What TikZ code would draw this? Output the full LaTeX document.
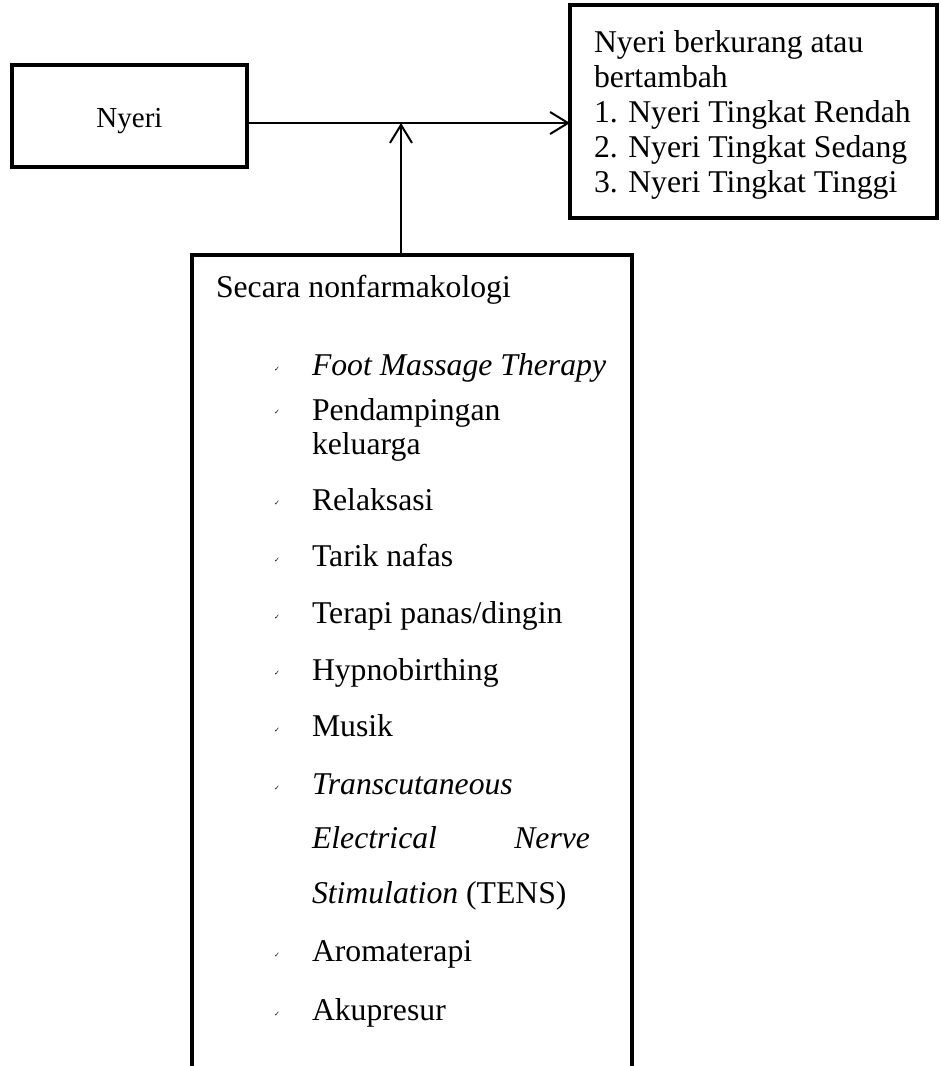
\documentclass[tikz,border=0pt]{standalone}
\usepackage{fontspec}
\setmainfont{Liberation Serif}
\newfontfamily\symfont{DejaVu Sans}
\usetikzlibrary{arrows.meta}
\begin{document}
\begin{tikzpicture}[x=1pt,y=-1pt,
  box/.style={draw, line width=4.8pt, rectangle, inner sep=0pt, outer sep=0pt},
  txt/.style={inner sep=0pt, outer sep=0pt, anchor=base west, font=\fontsize{31.7}{35}\selectfont},
  chk/.style={inner sep=0pt, outer sep=0pt, anchor=center, font=\symfont\bfseries\fontsize{7}{7}\selectfont},
  conn/.style={line width=2pt, -{Straight Barb[length=18pt,width=22pt]}}
]
\useasboundingbox (0,0) rectangle (941,1066);
\fill[white] (0,0) rectangle (941,1066);
\clip (0,0) rectangle (941,1066);

% boxes
\node[box, minimum width=235pt, minimum height=102pt] (nyeri) at (129.5,116) {};
\node[txt, anchor=base, font=\fontsize{29}{30}\selectfont] (nyerilbl) at (129.5,127) {Nyeri};

\node[box, minimum width=367pt, minimum height=213pt] (hasil) at (753.5,111.5) {};
\node[txt] (h1) at (594,52) {Nyeri berkurang atau};
\node[txt] (h2) at (594,87) {bertambah};
\node[txt] (h3) at (594,122) {1. Nyeri Tingkat Rendah};
\node[txt] (h4) at (594,157) {2. Nyeri Tingkat Sedang};
\node[txt] (h5) at (594,192) {3. Nyeri Tingkat Tinggi};

\node[box, minimum width=440pt, minimum height=900pt, anchor=north] (non) at (412,255) {};
\node[txt] (judul) at (216,297.7) {Secara nonfarmakologi};

\node[chk] (c1) at (277,369.5) {✓};
\node[txt] (i1) at (312,375.7) {\itshape Foot Massage Therapy};
\node[chk] (c2) at (277,412.5) {✓};
\node[txt] (i2) at (312,420.7) {Pendampingan};
\node[txt] (i2b) at (312,454.3) {keluarga};
\node[chk] (c3) at (277,503.5) {✓};
\node[txt] (i3) at (312,510) {Relaksasi};
\node[chk] (c4) at (277,560) {✓};
\node[txt] (i4) at (312,566.7) {Tarik nafas};
\node[chk] (c5) at (277,617) {✓};
\node[txt] (i5) at (312,623.3) {Terapi panas/dingin};
\node[chk] (c6) at (277,673.5) {✓};
\node[txt] (i6) at (312,680) {Hypnobirthing};
\node[chk] (c7) at (277,730) {✓};
\node[txt] (i7) at (312,736.7) {Musik};
\node[chk] (c8) at (277,788) {✓};
\node[txt] (i8) at (312,794.3) {\itshape Transcutaneous};
\node[txt] (i8b) at (312,848.3) {\hbox to 278pt{\itshape Electrical\hfill Nerve}};
\node[txt] (i8c) at (312,903.3) {\textit{Stimulation} (TENS)};
\node[chk] (c9) at (277,955) {✓};
\node[txt] (i9) at (312,961) {Aromaterapi};
\node[chk] (c10) at (277,1014) {✓};
\node[txt] (i10) at (312,1020) {Akupresur};

% connectors
\coordinate (j) at (401,123);
\draw[conn] (nyeri.east |- j) -- (hasil.west |- j);
\draw[conn] (j |- non.north) -- (j);
\end{tikzpicture}
\end{document}
